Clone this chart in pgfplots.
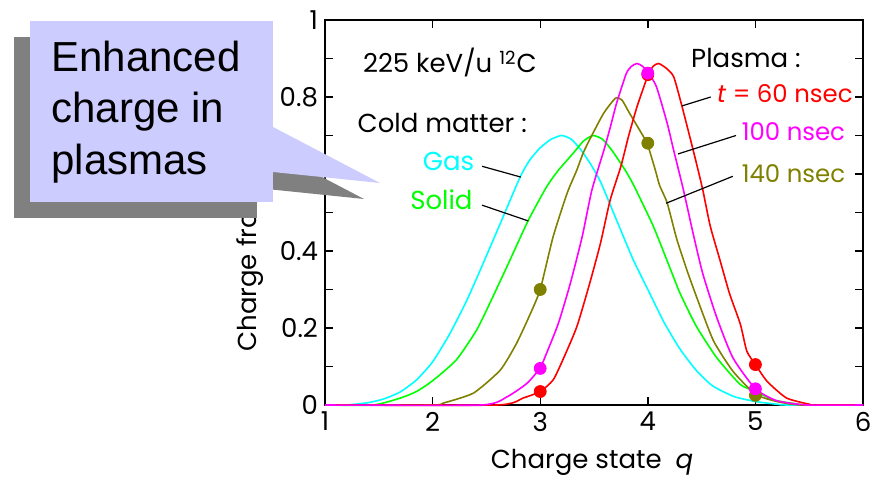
\documentclass[border=0pt]{standalone}
\usepackage{fontspec}
\setmainfont{Poppins}
\newfontfamily\arialf{Liberation Sans}
\usepackage{pgfplots}
\pgfplotsset{compat=1.18}
\definecolor{cgas}{RGB}{0,255,255}
\definecolor{csol}{RGB}{0,255,0}
\definecolor{colv}{RGB}{128,128,0}
\definecolor{cmag}{RGB}{255,0,255}
\definecolor{cred}{RGB}{255,0,0}
\definecolor{clav}{RGB}{204,204,255}
\definecolor{cshd}{RGB}{128,128,128}
\newcommand{\lf}{\fontsize{13}{15}\selectfont}
\newcommand{\smf}{\fontsize{12.2}{14}\selectfont}
\begin{document}
\begin{tikzpicture}
\useasboundingbox (0,0) rectangle (436pt,240pt);
\begin{axis}[
  at={(162.5pt,37.5pt)}, anchor=south west,
  width=269pt, height=192.5pt, scale only axis,
  xmin=1, xmax=6, ymin=0, ymax=1,
  xtick={1,2,3,4,5,6}, ytick={0,0.2,0.4,0.6,0.8,1},
  minor ytick={0.1,0.3,0.5,0.7,0.9},
  tick align=inside,
  major tick length=3.8pt, minor tick length=3.8pt,
  axis line style={line width=1pt},
  every tick/.style={black, line width=0.7pt},
  /pgf/number format/assume math mode=true,
  tick label style={font=\lf},
  clip=false,
  curve/.style={line width=0.8pt, smooth, tension=0.35},
]
\addplot[cgas, curve] coordinates {(1,0)(1.2,0)(1.4,0.006)(1.55,0.016)(1.7,0.034)(1.85,0.065)(2.0,0.112)(2.16,0.185)(2.32,0.273)(2.47,0.368)(2.63,0.472)(2.81,0.59)(2.9,0.635)(3.0,0.668)(3.1,0.69)(3.2,0.70)(3.29,0.69)(3.38,0.662)(3.47,0.625)(3.56,0.58)(3.71,0.48)(3.86,0.38)(4.0,0.30)(4.15,0.215)(4.3,0.145)(4.45,0.09)(4.6,0.05)(4.8,0.022)(5.0,0.009)(5.2,0.002)(5.3,0)(6,0)};
\addplot[csol, curve] coordinates {(1,0)(1.45,0)(1.7,0.018)(1.85,0.035)(2.0,0.063)(2.22,0.117)(2.41,0.195)(2.56,0.281)(2.72,0.377)(2.89,0.48)(3.06,0.567)(3.17,0.61)(3.31,0.655)(3.40,0.685)(3.49,0.70)(3.58,0.69)(3.67,0.66)(3.79,0.61)(3.87,0.57)(4.05,0.465)(4.20,0.36)(4.30,0.29)(4.45,0.205)(4.64,0.123)(4.86,0.053)(5.0,0.036)(5.17,0.013)(5.4,0.002)(5.5,0)(6,0)};
\addplot[colv, curve] coordinates {(1,0)(2.0,0)(2.10,0.005)(2.38,0.031)(2.63,0.091)(2.78,0.16)(2.91,0.238)(3.0,0.30)(3.12,0.437)(3.25,0.55)(3.34,0.61)(3.40,0.655)(3.47,0.695)(3.59,0.758)(3.70,0.797)(3.76,0.792)(3.83,0.758)(3.96,0.697)(4.0,0.675)(4.07,0.61)(4.11,0.57)(4.18,0.525)(4.27,0.43)(4.37,0.345)(4.47,0.268)(4.61,0.167)(4.79,0.088)(5.0,0.028)(5.2,0.009)(5.42,0)(6,0)};
\addplot[cred, curve] coordinates {(1,0)(2.6,0)(2.84,0.018)(3.0,0.035)(3.12,0.065)(3.21,0.117)(3.34,0.203)(3.46,0.316)(3.56,0.42)(3.65,0.532)(3.75,0.62)(3.82,0.697)(3.90,0.775)(4.0,0.855)(4.05,0.88)(4.10,0.887)(4.17,0.875)(4.24,0.853)(4.31,0.784)(4.39,0.697)(4.45,0.63)(4.51,0.56)(4.58,0.465)(4.67,0.377)(4.76,0.289)(4.86,0.21)(4.92,0.14)(5.0,0.105)(5.11,0.061)(5.29,0.018)(5.5,0.002)(5.55,0)(6,0)};
\addplot[cmag, curve] coordinates {(1,0)(2.45,0)(2.69,0.021)(2.88,0.057)(3.0,0.097)(3.06,0.135)(3.17,0.213)(3.28,0.316)(3.39,0.437)(3.48,0.558)(3.59,0.66)(3.65,0.72)(3.71,0.784)(3.80,0.861)(3.85,0.88)(3.90,0.887)(3.95,0.88)(4.0,0.865)(4.08,0.827)(4.18,0.732)(4.24,0.662)(4.33,0.56)(4.42,0.447)(4.51,0.342)(4.64,0.228)(4.79,0.123)(5.0,0.042)(5.2,0.011)(5.48,0)(6,0)};
\addplot[only marks, mark=*, mark size=3pt, colv, mark options={fill=colv, draw=colv}] coordinates {(3,0.30)(4,0.68)(5,0.025)};
\addplot[only marks, mark=*, mark size=3pt, cred, mark options={fill=cred, draw=cred}] coordinates {(3,0.035)(4,0.858)(5,0.105)};
\addplot[only marks, mark=*, mark size=3pt, cmag, mark options={fill=cmag, draw=cmag}] coordinates {(3,0.095)(4,0.862)(5,0.042)};
% leader lines
\draw[black, line width=0.6pt] (axis cs:2.46,0.62) -- (axis cs:2.82,0.592);
\draw[black, line width=0.6pt] (axis cs:2.46,0.519) -- (axis cs:2.89,0.478);
\draw[black, line width=0.6pt] (axis cs:4.32,0.777) -- (axis cs:4.585,0.80);
\draw[black, line width=0.6pt] (axis cs:4.28,0.652) -- (axis cs:4.82,0.70);
\draw[black, line width=0.6pt] (axis cs:4.17,0.524) -- (axis cs:4.79,0.594);
% texts
\node[anchor=west, inner sep=0, font=\lf] at (axis cs:1.35,0.889) {225 keV/u \textsuperscript{12}C};
\node[anchor=west, inner sep=0, font=\lf] at (axis cs:1.30,0.733) {Cold matter :};
\node[anchor=east, inner sep=0, font=\lf, text=cgas] at (axis cs:2.39,0.632) {Gas};
\node[anchor=east, inner sep=0, font=\lf, text=csol] at (axis cs:2.375,0.532) {Solid};
\node[anchor=west, inner sep=0, font=\lf] at (axis cs:4.40,0.90) {Plasma :};
\node[anchor=west, inner sep=0, font=\smf, text=cred] at (axis cs:4.64,0.809) {\textit{t} = 60 nsec};
\node[anchor=west, inner sep=0, font=\smf, text=cmag] at (axis cs:4.87,0.709) {100 nsec};
\node[anchor=west, inner sep=0, font=\smf, text=colv] at (axis cs:4.87,0.602) {140 nsec};
\end{axis}
\begin{scope}[x=0.5pt, y=-0.5pt, shift={(0pt,240pt)}]
\node[rotate=90, anchor=west, inner sep=0, font=\lf] at (250,352) {Charge fraction};
\node[anchor=center, inner sep=0, font=\lf] at (592,462) {Charge state\ \ \textit{q}};
\fill[cshd] (14,37) rectangle (257,218);
\fill[cshd] (257,143) -- (364,199) -- (257,188) -- cycle;
\fill[clav] (30,21) rectangle (273,202);
\fill[clav] (273,127) -- (380,183) -- (273,172) -- cycle;
\node[anchor=base west, inner sep=0, font=\arialf\fontsize{21}{25}\selectfont] at (51,72) {Enhanced};
\node[anchor=base west, inner sep=0, font=\arialf\fontsize{21}{25}\selectfont] at (51,123) {charge in};
\node[anchor=base west, inner sep=0, font=\arialf\fontsize{21}{25}\selectfont] at (51,175) {plasmas};
\end{scope}
\end{tikzpicture}
\end{document}
